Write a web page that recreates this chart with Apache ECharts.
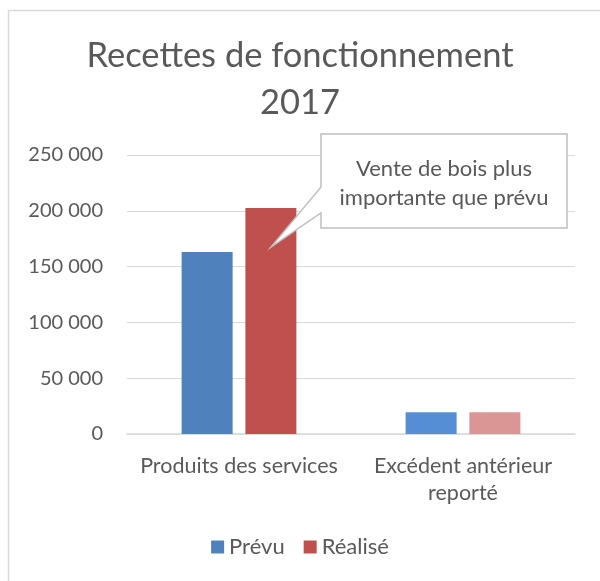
<!DOCTYPE html>
<html>
<head>
<meta charset="utf-8">
<script src="https://cdn.jsdelivr.net/npm/echarts@6/dist/echarts.min.js"></script>
<style>
  html, body { margin: 0; padding: 0; background: #fff; }
  #chart { width: 600px; height: 581px; }
</style>
</head>
<body>
<div id="chart"></div>
<script>
const categories = ['Produits des services', 'Excédent antérieur\nreporté'];
const prevu = [163000, 19600];
const realise = [202500, 19600];
const seriesNames = ['Prévu', 'Réalisé'];
const calloutLines = ['Vente de bois plus', 'importante que prévu'];

const textColor = '#595959';
const fontFamily = 'Lato, "Open Sans", sans-serif';

const chart = echarts.init(document.getElementById('chart'));

chart.setOption({
  animation: false,
  textStyle: { fontFamily: fontFamily },
  title: {
    text: 'Recettes de fonctionnement\n2017',
    left: 'center',
    top: 27,
    textStyle: {
      color: textColor,
      fontSize: 34.5,
      fontWeight: 'normal',
      lineHeight: 47,
      fontFamily: fontFamily
    }
  },
  legend: {
    bottom: 18,
    left: 'center',
    itemWidth: 13,
    itemHeight: 13,
    itemGap: 19,
    icon: 'rect',
    textStyle: { color: textColor, fontSize: 22, fontFamily: fontFamily },
    data: seriesNames
  },
  grid: {
    left: 127,
    right: 25,
    top: 155,
    bottom: 147
  },
  xAxis: {
    type: 'category',
    data: categories,
    axisLine: { lineStyle: { color: '#d9d9d9', width: 1.5 } },
    axisTick: { show: false },
    axisLabel: {
      color: textColor,
      fontSize: 21.5,
      lineHeight: 27,
      margin: 19,
      interval: 0
    }
  },
  yAxis: {
    type: 'value',
    min: 0,
    max: 250000,
    interval: 50000,
    axisLine: { show: false },
    axisTick: { show: false },
    splitLine: { lineStyle: { color: '#d9d9d9', width: 1 } },
    axisLabel: {
      color: textColor,
      fontSize: 20,
      margin: 24,
      formatter: v => v === 0 ? '0' : String(v).replace(/\B(?=(\d{3})+(?!\d))/g, ' ')
    }
  },
  series: [
    {
      name: seriesNames[0],
      type: 'bar',
      barWidth: 51,
      barGap: '25%',
      itemStyle: { color: '#4F81BD' },
      data: prevu.map((v, i) => i === 1 ? { value: v, itemStyle: { color: '#558ED5' } } : v)
    },
    {
      name: seriesNames[1],
      type: 'bar',
      barWidth: 51,
      barGap: '25%',
      itemStyle: { color: '#C0504D' },
      data: realise.map((v, i) => i === 1 ? { value: v, itemStyle: { color: '#D99694' } } : v)
    }
  ],
  graphic: [
    {
      type: 'rect',
      silent: true,
      shape: { x: 8.5, y: 10.5, width: 620, height: 620 },
      style: { fill: 'none', stroke: '#d9d9d9', lineWidth: 1.5 }
    },
    {
      type: 'polygon',
      silent: true,
      z: 100,
      shape: {
        points: [
          [321, 134], [567, 134], [567, 228], [321, 228],
          [321, 213], [271, 247], [321, 187]
        ]
      },
      style: { fill: '#fff', stroke: '#bfbfbf', lineWidth: 1.5 }
    },
    {
      type: 'text',
      silent: true,
      z: 101,
      x: 444,
      y: 183,
      style: {
        text: calloutLines.join('\n'),
        align: 'center',
        verticalAlign: 'middle',
        fill: textColor,
        fontSize: 22,
        lineHeight: 29,
        fontFamily: fontFamily
      }
    }
  ]
});
</script>
</body>
</html>
